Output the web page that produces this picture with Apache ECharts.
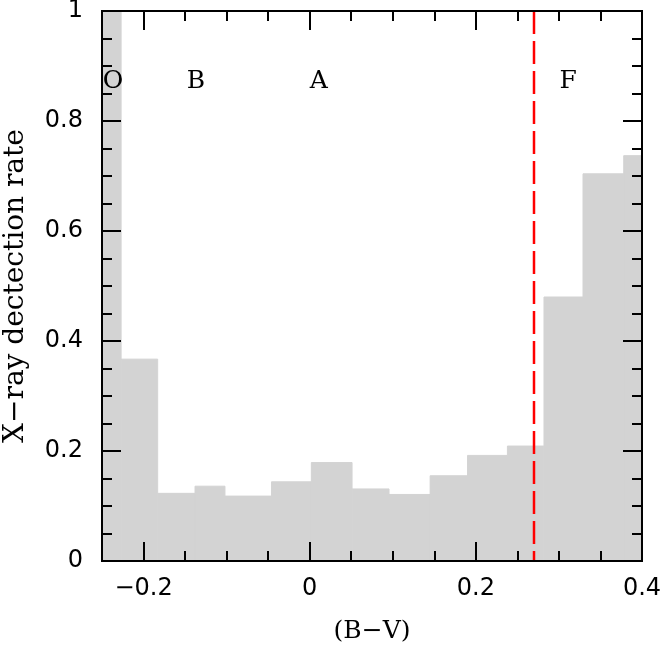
<!DOCTYPE html>
<html>
<head>
<meta charset="utf-8">
<script src="https://cdn.jsdelivr.net/npm/echarts@6/dist/echarts.min.js"></script>
<style>
  html, body { margin: 0; padding: 0; background: #fff; }
  #chart { width: 664px; height: 653px; }
</style>
</head>
<body>
<div id="chart"></div>
<script>
  // histogram bins: left edge, right edge, detection rate
  const binLo = [-0.25, -0.227, -0.183, -0.138, -0.102, -0.046, 0.002, 0.051, 0.0955, 0.145, 0.19, 0.238, 0.282, 0.329, 0.378];
  const binHi = [-0.227, -0.183, -0.138, -0.102, -0.046, 0.002, 0.051, 0.0955, 0.145, 0.19, 0.238, 0.282, 0.329, 0.378, 0.40];
  const rate = [1.0, 0.367, 0.123, 0.136, 0.118, 0.144, 0.179, 0.131, 0.121, 0.155, 0.192, 0.209, 0.48, 0.704, 0.737];

  // dashed boundary (A / F)
  const cutBV = 0.27;

  // spectral type labels
  const specNames = ['O', 'B', 'A', 'F'];
  const specX = [-0.2368, -0.137, 0.011, 0.311];
  const specY = [0.871, 0.871, 0.871, 0.871];

  const xMajorTicks = [-0.2, 0, 0.2, 0.4];

  const serif = 'DejaVu Serif';
  const sans = 'DejaVu Sans';

  const histData = binLo.map((lo, i) => [lo, binHi[i], rate[i]]);
  const specData = specNames.map((s, i) => [specX[i], specY[i], s]);

  const myChart = echarts.init(document.getElementById('chart'));

  const frameLine = { show: true, onZero: false, lineStyle: { color: '#000', width: 2 } };

  function xAxisDef(major, withLabels) {
    return {
      type: 'value',
      min: -0.25,
      max: 0.4,
      interval: 0.05,
      z: 10,
      splitLine: { show: false },
      axisLine: frameLine,
      axisTick: major
        ? { show: true, inside: true, length: 19, customValues: xMajorTicks, lineStyle: { color: '#000', width: 2 } }
        : { show: true, inside: true, length: 10, lineStyle: { color: '#000', width: 2 } },
      axisLabel: withLabels
        ? {
            show: true, customValues: xMajorTicks, margin: 16,
            fontFamily: sans, fontSize: 24, color: '#000',
            formatter: v => String(Math.round(v * 10) / 10).replace('-', '\u2212')
          }
        : { show: false }
    };
  }

  function yAxisDef(major, withLabels) {
    return {
      type: 'value',
      min: 0,
      max: 1,
      interval: major ? 0.2 : 0.05,
      z: 10,
      splitLine: { show: false },
      axisLine: frameLine,
      axisTick: { show: true, inside: true, length: major ? 19 : 10, lineStyle: { color: '#000', width: 2 } },
      axisLabel: withLabels
        ? { show: true, margin: 19, fontFamily: sans, fontSize: 24, color: '#000',
            formatter: v => String(Math.round(v * 10) / 10) }
        : { show: false }
    };
  }

  const xBottom = xAxisDef(true, true);
  xBottom.position = 'bottom';
  xBottom.name = '(B\u2212V)';
  xBottom.nameLocation = 'middle';
  xBottom.nameGap = 58;
  xBottom.nameTextStyle = { fontFamily: serif, fontSize: 25, color: '#000' };

  const yLeft = yAxisDef(true, true);
  yLeft.position = 'left';
  yLeft.name = 'X\u2212ray dectection rate';
  yLeft.nameLocation = 'middle';
  yLeft.nameGap = 72;
  yLeft.nameTextStyle = { fontFamily: serif, fontSize: 28, color: '#000' };

  const xTop = Object.assign(xAxisDef(true, false), { position: 'top' });
  const xMinorB = Object.assign(xAxisDef(false, false), { position: 'bottom' });
  const xMinorT = Object.assign(xAxisDef(false, false), { position: 'top' });
  const yRight = Object.assign(yAxisDef(true, false), { position: 'right' });
  const yMinorL = Object.assign(yAxisDef(false, false), { position: 'left' });
  const yMinorR = Object.assign(yAxisDef(false, false), { position: 'right' });

  const option = {
    animation: false,
    backgroundColor: '#fff',
    grid: { left: 102, right: 22, top: 11, bottom: 92, containLabel: false, outerBoundsMode: 'none' },
    xAxis: [xBottom, xTop, xMinorB, xMinorT],
    yAxis: [yLeft, yRight, yMinorL, yMinorR],
    series: [
      {
        type: 'custom',
        xAxisIndex: 0,
        yAxisIndex: 0,
        clip: true,
        z: 1,
        data: histData,
        encode: { x: [0, 1], y: 2 },
        renderItem: function (params, api) {
          const p0 = api.coord([api.value(0), api.value(2)]);
          const p1 = api.coord([api.value(1), 0]);
          return {
            type: 'rect',
            shape: { x: p0[0], y: p0[1], width: p1[0] - p0[0], height: p1[1] - p0[1] },
            style: { fill: '#d3d3d3', stroke: '#d3d3d3', lineWidth: 1 }
          };
        }
      },
      {
        type: 'line',
        xAxisIndex: 0,
        yAxisIndex: 0,
        z: 3,
        showSymbol: false,
        symbol: 'none',
        data: [[cutBV, 1], [cutBV, 0]],
        lineStyle: { color: '#ff0000', width: 2.5, type: [23, 7] }
      },
      {
        type: 'scatter',
        xAxisIndex: 0,
        yAxisIndex: 0,
        symbolSize: 0,
        z: 4,
        itemStyle: { opacity: 1 },
        data: specData,
        label: {
          show: true,
          position: 'inside',
          fontFamily: serif,
          fontSize: 25,
          color: '#000',
          opacity: 1,
          formatter: p => p.value[2]
        }
      }
    ]
  };

  myChart.setOption(option);
</script>
</body>
</html>
